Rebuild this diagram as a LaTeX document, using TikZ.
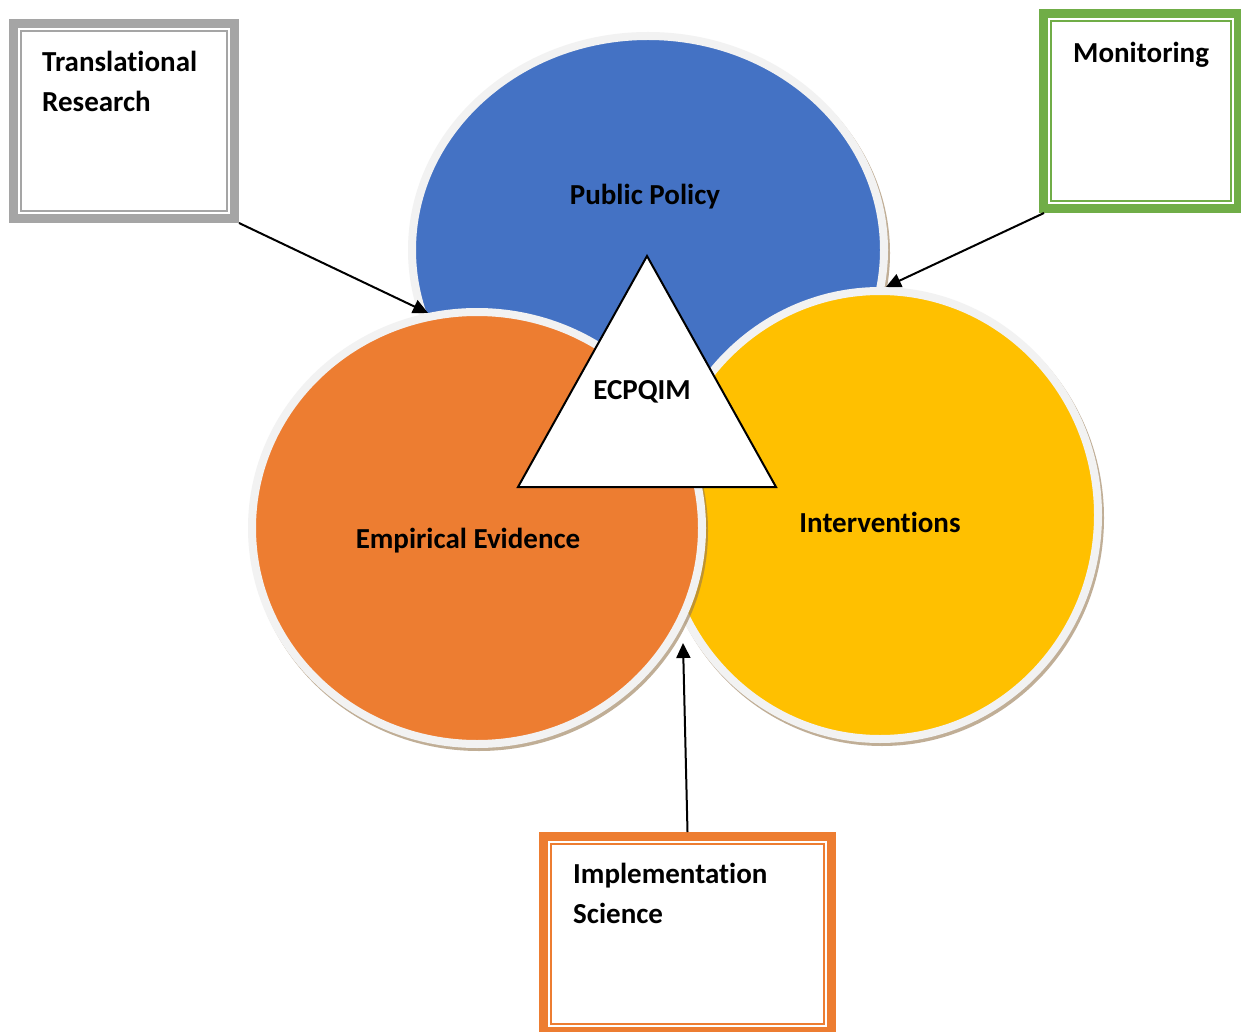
\documentclass[tikz,border=0pt]{standalone}
\usepackage{fontspec}
\setmainfont{Carlito}[Ligatures=NoCommon]
\usetikzlibrary{shapes.geometric,arrows.meta}
\definecolor{ppblue}{HTML}{4472C4}
\definecolor{eeorange}{HTML}{ED7D31}
\definecolor{ivyellow}{HTML}{FFC000}
\definecolor{rimgrey}{HTML}{F2F2F2}
\definecolor{shade}{RGB}{150,120,80}
\definecolor{trgrey}{HTML}{A5A5A5}
\definecolor{mongreen}{HTML}{70AD47}
\tikzset{
	blob/.style={ellipse,draw=rimgrey,line width=8pt,inner sep=0pt,outer sep=0pt,
		preaction={draw=shade,draw opacity=.6,line width=8pt,transform canvas={shift={(2pt,-3pt)}}}},
	lbl/.style={inner sep=0pt,font=\fontsize{29}{40}\selectfont\bfseries},
	boxtext/.style={anchor=base west,align=left,inner sep=0pt,font=\fontsize{29}{40}\selectfont\bfseries},
	tbox/.style={draw=#1,line width=9pt,fill=white,inner sep=0pt,outer sep=4.5pt},
	tri/.style={draw=black,line width=2pt,fill=white,line join=miter},
	link/.style={line width=2pt,-{Triangle[length=15pt,width=14pt]}}
}
\begin{document}
\begin{tikzpicture}[x=1pt,y=-1pt]
	\path[use as bounding box,fill=white] (0,0) rectangle (1241,1032);
	% the three circles
	\node[blob,fill=ppblue,minimum width=472pt,minimum height=428pt] (pp) at (648,250) {};
	\node[blob,fill=ivyellow,minimum width=436pt,minimum height=448pt] (iv) at (880,515) {};
	\node[blob,fill=eeorange,minimum width=450pt,minimum height=432pt] (ee) at (477,528) {};
	\node[lbl] (pptext) at (645,197) {Public Policy};
	\node[lbl] (eetext) at (468,541) {Empirical Evidence};
	\node[lbl] (ivtext) at (880,522) {Interventions};
	% centre triangle
	\coordinate (apex) at (647,256);
	\coordinate (bl) at (518,487);
	\coordinate (br) at (776,487);
	\draw[tri] (apex) -- (bl) -- (br) -- cycle;
	\node[lbl] (core) at (642,392) {ECPQIM};
	% boxes
	\node[tbox=trgrey,minimum width=221pt,minimum height=195pt] (tr) at (124,121) {};
	\node[tbox=mongreen,minimum width=195pt,minimum height=195pt] (mon) at (1141,111) {};
	\node[tbox=eeorange,minimum width=288pt,minimum height=195pt] (impl) at (687.5,934) {};
	\foreach \b/\c in {tr/trgrey,mon/mongreen,impl/eeorange}
	\draw[\c,line width=2pt] ([shift={(12,12)}]\b.north west) rectangle ([shift={(-12,-12)}]\b.south east);
	\node[boxtext] (trlabel) at (42,112) {Translational\\Research};
	\node[boxtext] (monlabel) at (1073,63) {Monitoring};
	\node[boxtext] (impllabel) at (573,923) {Implementation\\Science};
	% arrows
	\coordinate (trtip) at (428,313);
	\coordinate (montip) at (886,287);
	\coordinate (impltip) at (683,643);
	\draw[link] (tr.south east) -- (trtip);
	\draw[link] ([xshift=5pt]mon.south west) -- (montip);
	\draw[link] (impl.north) -- (impltip);
\end{tikzpicture}
\end{document}
